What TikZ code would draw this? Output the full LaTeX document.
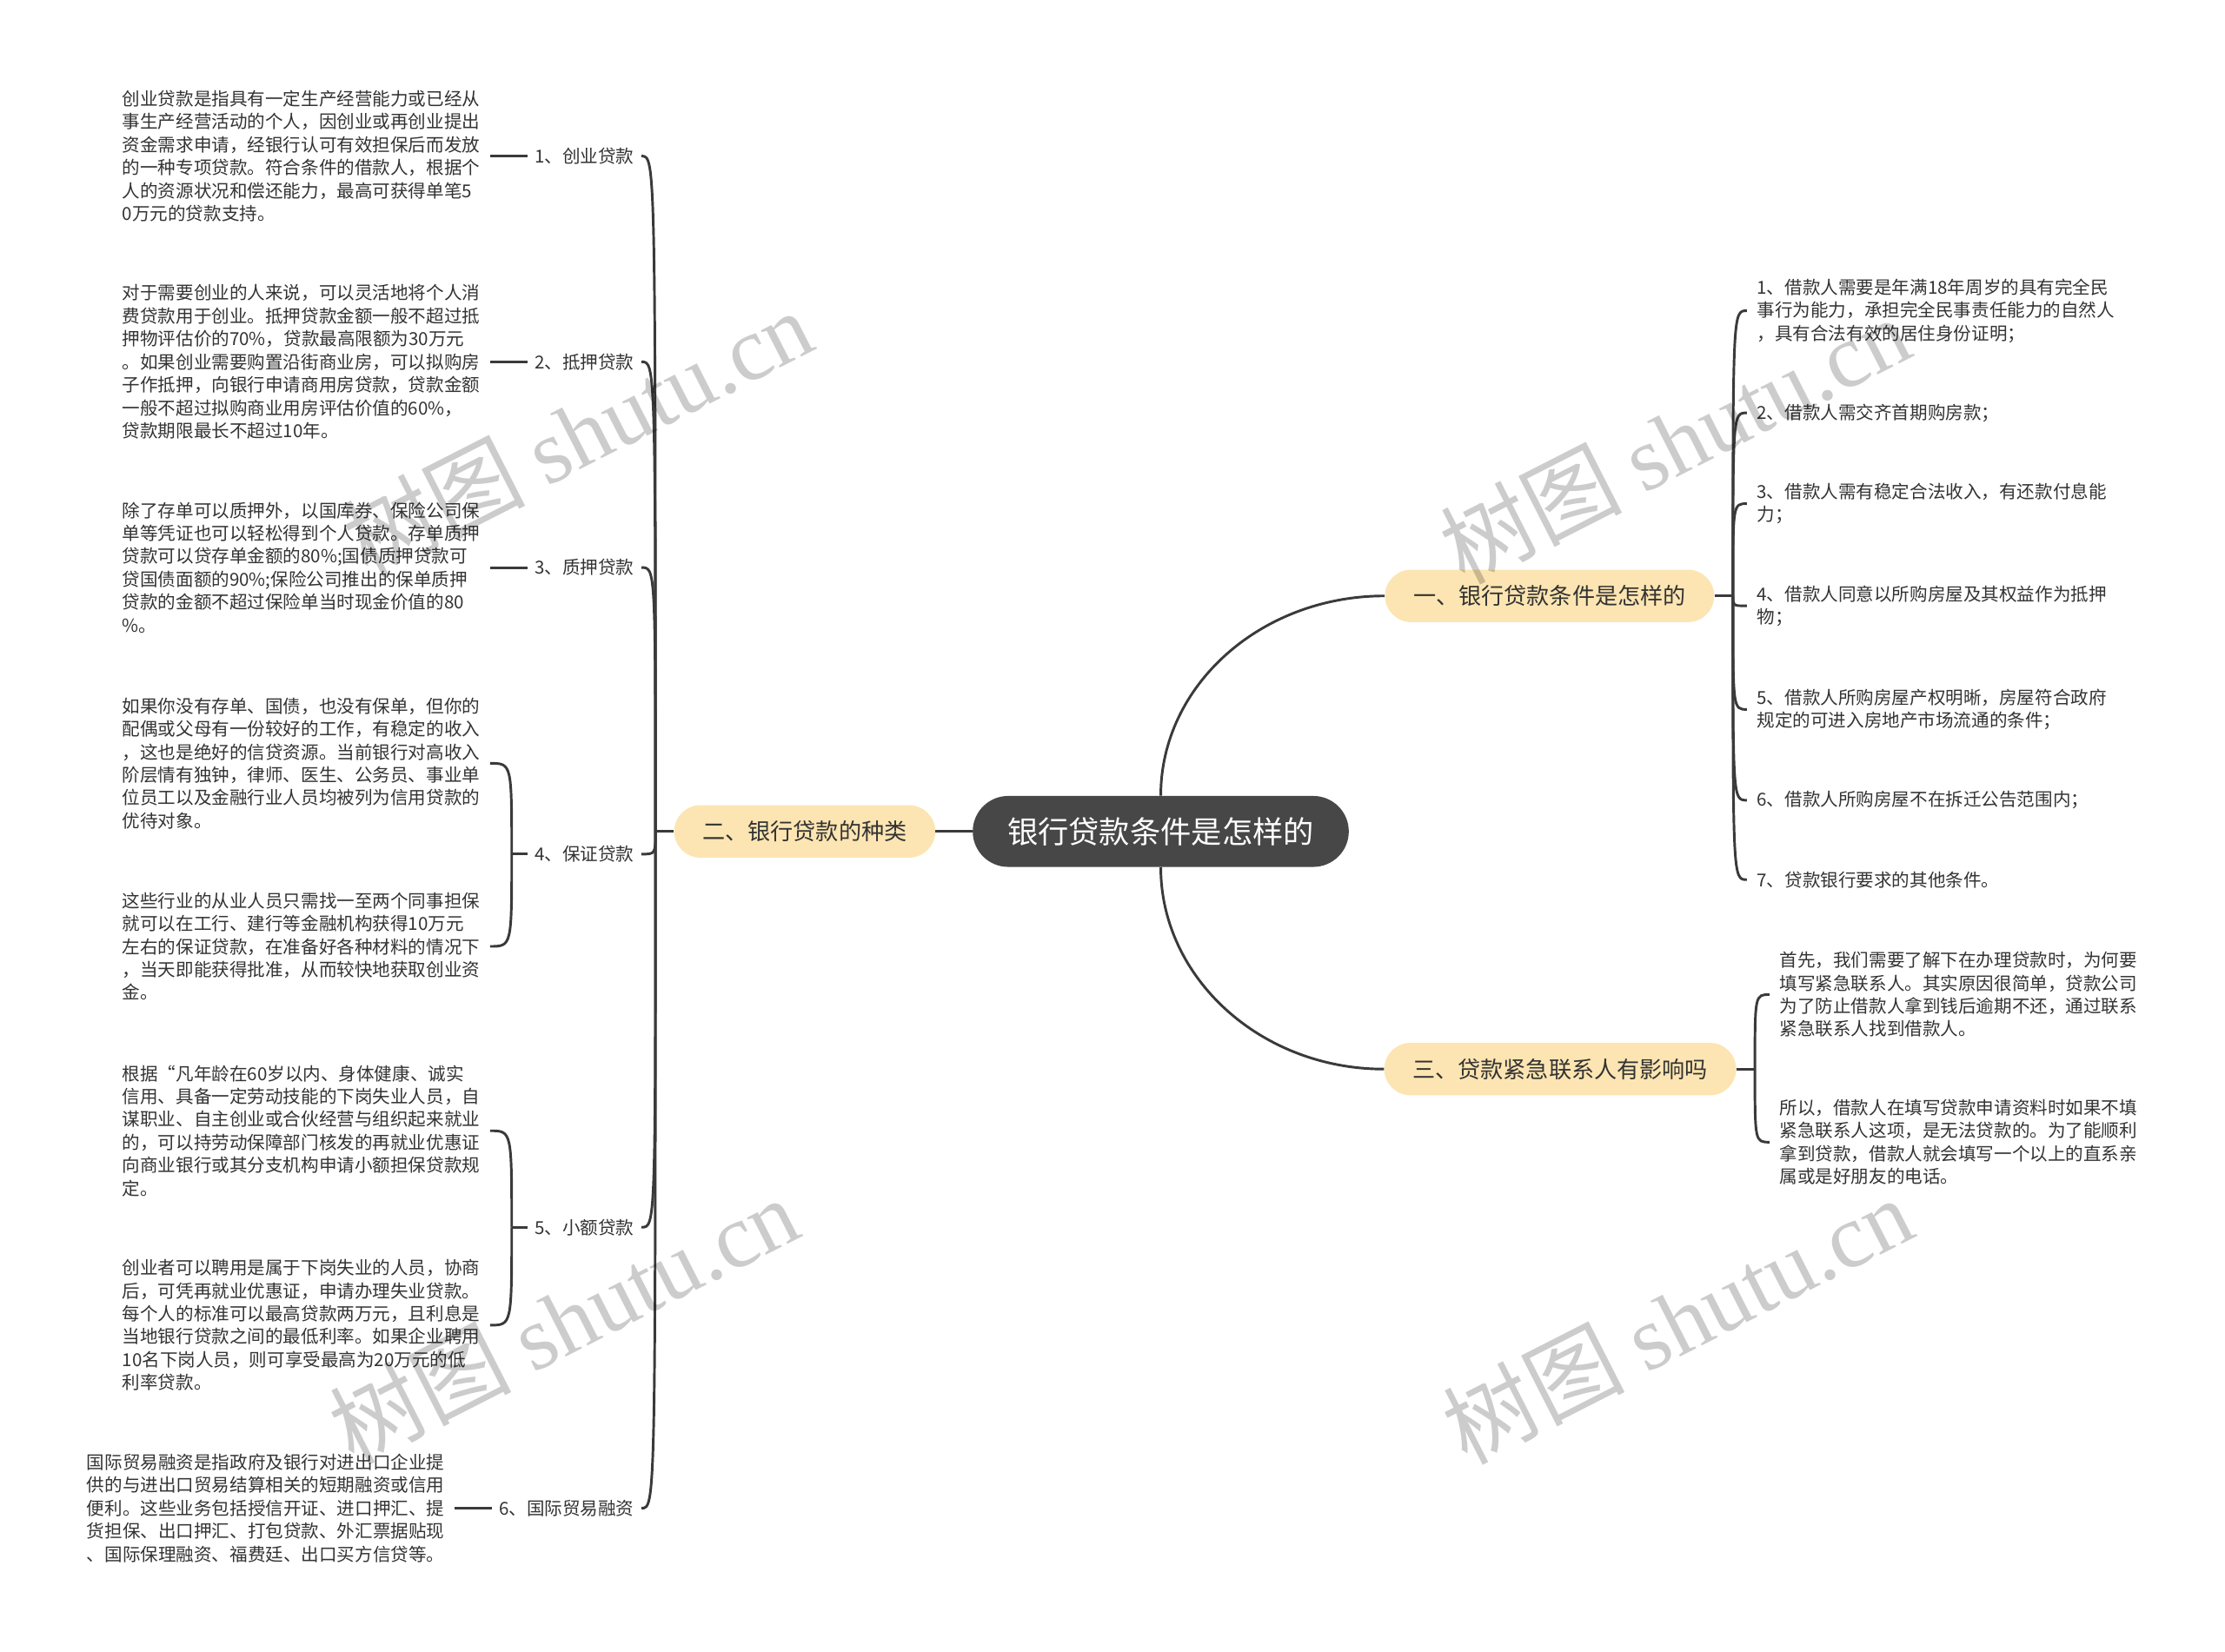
\documentclass[tikz,border=0pt]{standalone}
\usepackage{fontspec}
\setmainfont{Noto Sans CJK SC}
\newfontfamily\wmfont{Liberation Serif}
\usetikzlibrary{positioning}
\definecolor{rootfill}{HTML}{474747}
\definecolor{subfill}{HTML}{FCE5B2}
\definecolor{ink}{HTML}{333333}
\definecolor{wire}{HTML}{3A3A3A}

\begin{document}
\begin{tikzpicture}[x=1pt,y=-1pt,
  topic/.style={fill=rootfill,text=white,rounded corners=25pt,minimum height=50pt,
    inner xsep=24.5pt,font=\fontsize{21.6}{26}\selectfont},
  sub/.style={fill=subfill,text=ink,rounded corners=18.5pt,minimum height=37pt,
    inner xsep=20pt,font=\fontsize{16}{19}\selectfont},
  lbl/.style={text=ink,anchor=east,inner xsep=5pt,inner ysep=2pt,
    font=\fontsize{12.6}{16.2}\selectfont},
  txt/.style={text=ink,anchor=west,align=left,inner xsep=7pt,inner ysep=0pt,
    font=\fontsize{12.6}{16.2}\selectfont},
  lnk/.style={draw=wire,line width=1.8pt},
  wm/.style={text=black,text opacity=0.2,rotate=27,font=\fontsize{64}{64}\selectfont}]
  \useasboundingbox (0,0) rectangle (1568,1164);
  % centre and main branches
  \node[topic] (root) at (818,586) {银行贷款条件是怎样的};
  \node[sub,left=26pt of root] (b2) {二、银行贷款的种类};
  \node[sub] (b1) at (1092,420) {一、银行贷款条件是怎样的};
  \node[sub] (b3) at (1099.5,753.5) {三、贷款紧急联系人有影响吗};
  \draw[lnk] (root) -- (b2);
  \draw[lnk] (root.north) .. controls +(0,-78) and +(-87,0) .. (b1.west);
  \draw[lnk] (root.south) .. controls +(0,78) and +(-87,0) .. (b3.west);
  % kinds of loans (left)
  \node[lbl] (l1) at (452,110) {1、创业贷款};
  \node[lbl] (l2) at (452,255) {2、抵押贷款};
  \node[lbl] (l3) at (452,400) {3、质押贷款};
  \node[lbl] (l4) at (452,602) {4、保证贷款};
  \node[lbl] (l5) at (452,865) {5、小额贷款};
  \node[lbl] (l6) at (452,1063) {6、国际贸易融资};
  \node[txt] (t1) at (79,110) {创业贷款是指具有一定生产经营能力或已经从\\事生产经营活动的个人，因创业或再创业提出\\资金需求申请，经银行认可有效担保后而发放\\的一种专项贷款。符合条件的借款人，根据个\\人的资源状况和偿还能力，最高可获得单笔5\\0万元的贷款支持。};
  \node[txt] (t2) at (79,255) {对于需要创业的人来说，可以灵活地将个人消\\费贷款用于创业。抵押贷款金额一般不超过抵\\押物评估价的70\%，贷款最高限额为30万元\\。如果创业需要购置沿街商业房，可以拟购房\\子作抵押，向银行申请商用房贷款，贷款金额\\一般不超过拟购商业用房评估价值的60\%，\\贷款期限最长不超过10年。};
  \node[txt] (t3) at (79,400) {除了存单可以质押外，以国库券、保险公司保\\单等凭证也可以轻松得到个人贷款。存单质押\\贷款可以贷存单金额的80\%;国债质押贷款可\\贷国债面额的90\%;保险公司推出的保单质押\\贷款的金额不超过保险单当时现金价值的80\\\%。};
  \node[txt] (t4a) at (79,538) {如果你没有存单、国债，也没有保单，但你的\\配偶或父母有一份较好的工作，有稳定的收入\\，这也是绝好的信贷资源。当前银行对高收入\\阶层情有独钟，律师、医生、公务员、事业单\\位员工以及金融行业人员均被列为信用贷款的\\优待对象。};
  \node[txt] (t4b) at (79,667) {这些行业的从业人员只需找一至两个同事担保\\就可以在工行、建行等金融机构获得10万元\\左右的保证贷款，在准备好各种材料的情况下\\，当天即能获得批准，从而较快地获取创业资\\金。};
  \node[txt] (t5a) at (79,797) {根据“凡年龄在60岁以内、身体健康、诚实\\信用、具备一定劳动技能的下岗失业人员，自\\谋职业、自主创业或合伙经营与组织起来就业\\的，可以持劳动保障部门核发的再就业优惠证\\向商业银行或其分支机构申请小额担保贷款规\\定。};
  \node[txt] (t5b) at (79,934) {创业者可以聘用是属于下岗失业的人员，协商\\后，可凭再就业优惠证，申请办理失业贷款。\\每个人的标准可以最高贷款两万元，且利息是\\当地银行贷款之间的最低利率。如果企业聘用\\10名下岗人员，则可享受最高为20万元的低\\利率贷款。};
  \node[txt] (t6) at (54,1063) {国际贸易融资是指政府及银行对进出口企业提\\供的与进出口贸易结算相关的短期融资或信用\\便利。这些业务包括授信开证、进口押汇、提\\货担保、出口押汇、打包贷款、外汇票据贴现\\、国际保理融资、福费廷、出口买方信贷等。};
  \draw[lnk] (b2.west) -- ++(-13,0) coordinate (j2);
  \foreach \n in {l1,l2,l3,l4,l5,l6}
    \draw[lnk] (j2) .. controls (j2 |- \n.east) and (j2 |- \n.east) .. (\n.east);
  \draw[lnk] (t1) -- (l1);
  \draw[lnk] (t2) -- (l2);
  \draw[lnk] (t3) -- (l3);
  \draw[lnk] (t6) -- (l6);
  \draw[lnk] (l4.west) -- ++(-11,0) coordinate (j4);
  \foreach \n in {t4a,t4b}
    \draw[lnk] (j4) .. controls (j4 |- \n.east) and (j4 |- \n.east) .. (\n.east);
  \draw[lnk] (l5.west) -- ++(-11,0) coordinate (j5);
  \foreach \n in {t5a,t5b}
    \draw[lnk] (j5) .. controls (j5 |- \n.east) and (j5 |- \n.east) .. (\n.east);
  % conditions (right, top)
  \node[txt] (c1) at (1231,219) {1、借款人需要是年满18年周岁的具有完全民\\事行为能力，承担完全民事责任能力的自然人\\，具有合法有效的居住身份证明；};
  \node[txt] (c2) at (1231,291) {2、借款人需交齐首期购房款；};
  \node[txt] (c3) at (1231,355) {3、借款人需有稳定合法收入，有还款付息能\\力；};
  \node[txt] (c4) at (1231,427) {4、借款人同意以所购房屋及其权益作为抵押\\物；};
  \node[txt] (c5) at (1231,500) {5、借款人所购房屋产权明晰，房屋符合政府\\规定的可进入房地产市场流通的条件；};
  \node[txt] (c6) at (1231,564) {6、借款人所购房屋不在拆迁公告范围内；};
  \node[txt] (c7) at (1231,620) {7、贷款银行要求的其他条件。};
  \draw[lnk] (b1.east) -- ++(13,0) coordinate (j1);
  \foreach \i in {1,...,7}
    \draw[lnk] (j1) .. controls (j1 |- c\i.west) and (j1 |- c\i.west) .. (c\i.west);
  % emergency contact (right, bottom)
  \node[txt] (d1) at (1247,701) {首先，我们需要了解下在办理贷款时，为何要\\填写紧急联系人。其实原因很简单，贷款公司\\为了防止借款人拿到钱后逾期不还，通过联系\\紧急联系人找到借款人。};
  \node[txt] (d2) at (1247,805) {所以，借款人在填写贷款申请资料时如果不填\\紧急联系人这项，是无法贷款的。为了能顺利\\拿到贷款，借款人就会填写一个以上的直系亲\\属或是好朋友的电话。};
  \draw[lnk] (b3.east) -- ++(13,0) coordinate (j3);
  \foreach \n in {d1,d2}
    \draw[lnk] (j3) .. controls (j3 |- \n.west) and (j3 |- \n.west) .. (\n.west);
  % watermarks
  \node[wm] (wm1) at (407,305) {树图 {\wmfont shutu.cn}};
  \node[wm] (wm2) at (1180,310) {树图 {\wmfont shutu.cn}};
  \node[wm] (wm3) at (397,930) {树图 {\wmfont shutu.cn}};
  \node[wm] (wm4) at (1182,930) {树图 {\wmfont shutu.cn}};
\end{tikzpicture}
\end{document}
